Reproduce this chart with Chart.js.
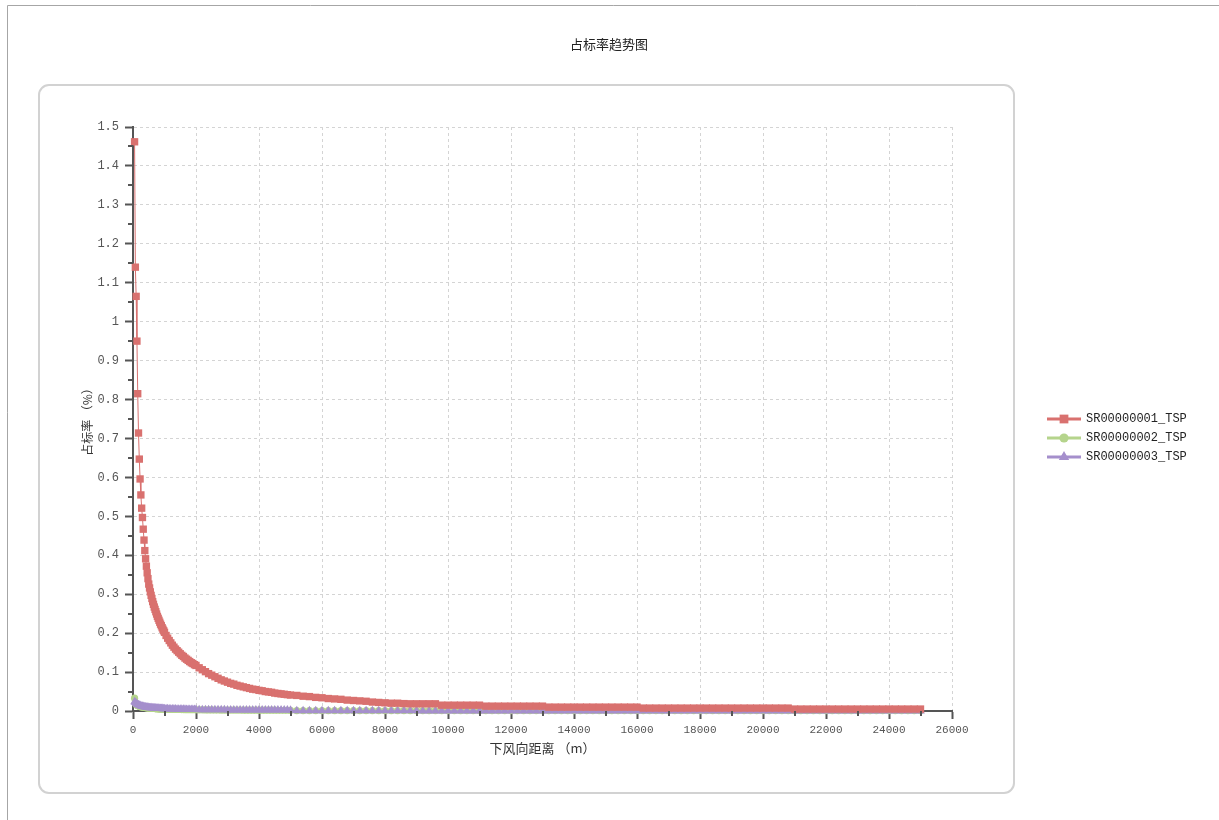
<!DOCTYPE html>
<html>
<head>
<meta charset="utf-8">
<script src="https://cdn.jsdelivr.net/npm/chart.js@4.4.1/dist/chart.umd.min.js"></script>
<style>
html,body{margin:0;padding:0;background:#fff;}
#wrap{width:1219px;height:820px;position:relative;}
canvas{display:block;}
</style>
</head>
<body>
<div id="wrap"><canvas id="c" width="1219" height="820"></canvas></div>
<script>
const chartTitle = '占标率趋势图';
const xTitle = '下风向距离 （m）';
const yTitle = '占标率 （%）';
const seriesNames = ['SR00000001_TSP', 'SR00000002_TSP', 'SR00000003_TSP'];
const seriesColors = ['#D9716F', '#B5D48C', '#A58FCC'];

const xTicksMax = 26000, xStep = 2000;
const yTicksMax = 1.5, yStep = 0.1;

const distances = [
  50,75,100,125,150,175,200,225,250,275,300,325,350,375,400,425,450,475,500,
  525,550,575,600,625,650,675,700,725,750,775,800,825,850,875,900,925,950,975,1000,
  1050,1100,1150,1200,1250,1300,1350,1400,1450,1500,
  1550,1600,1650,1700,1750,1800,1850,1900,1950,2000,
  2100,2200,2300,2400,2500,2600,2700,2800,2900,3000,
  3100,3200,3300,3400,3500,3600,3700,3800,3900,4000,
  4100,4200,4300,4400,4500,4600,4700,4800,4900,5000,
  5200,5400,5600,5800,6000,6200,6400,6600,6800,7000,
  7200,7400,7600,7800,8000,8200,8400,8600,8800,9000,
  9200,9400,9600,9800,10000,10200,10400,10600,10800,11000,
  11200,11400,11600,11800,12000,12200,12400,12600,12800,13000,
  13200,13400,13600,13800,14000,14200,14400,14600,14800,15000,
  15200,15400,15600,15800,16000,16200,16400,16600,16800,17000,
  17200,17400,17600,17800,18000,18200,18400,18600,18800,19000,
  19200,19400,19600,19800,20000,20200,20400,20600,20800,21000,
  21200,21400,21600,21800,22000,22200,22400,22600,22800,23000,
  23200,23400,23600,23800,24000,24200,24400,24600,24800,25000
];

const sr1 = [
  1.462,1.140,1.065,0.950,0.815,0.714,0.647,0.596,0.555,0.521,0.497,0.467,0.439,0.412,0.391,0.372,0.355,0.340,0.326,
  0.316,0.306,0.297,0.289,0.281,0.274,0.267,0.261,0.255,0.249,0.243,0.238,0.233,0.228,0.223,0.219,0.214,0.210,0.206,0.202,
  0.194,0.187,0.181,0.175,0.169,0.164,0.159,0.155,0.151,0.147,
  0.143,0.140,0.136,0.133,0.130,0.127,0.124,0.122,0.119,0.117,
  0.111,0.106,0.101,0.096,0.092,0.088,0.084,0.080,0.077,0.074,
  0.071,0.069,0.066,0.064,0.062,0.060,0.058,0.056,0.055,0.053,
  0.052,0.050,0.049,0.048,0.046,0.045,0.044,0.043,0.042,0.041,
  0.040,0.038,0.037,0.035,0.034,0.032,0.031,0.030,0.028,0.027,
  0.026,0.025,0.023,0.022,0.021,0.020,0.020,0.019,0.0185,0.0185,
  0.0185,0.0185,0.0185,0.015,0.015,0.015,0.015,0.015,0.015,0.015,
  0.0125,0.0125,0.0125,0.0125,0.0125,0.0125,0.0125,0.0125,0.0125,0.0125,
  0.010,0.010,0.010,0.010,0.010,0.010,0.010,0.010,0.010,0.010,
  0.010,0.010,0.010,0.010,0.010,0.0075,0.0075,0.0075,0.0075,0.0075,
  0.0075,0.0075,0.0075,0.0075,0.0075,0.0075,0.0075,0.0075,0.0075,0.0075,
  0.0075,0.0075,0.0075,0.0075,0.0075,0.0075,0.0075,0.0075,0.0075,0.005,
  0.005,0.005,0.005,0.005,0.005,0.005,0.005,0.005,0.005,0.005,
  0.005,0.005,0.005,0.005,0.005,0.005,0.005,0.005,0.005,0.005
];

const sr2 = [
  0.033,0.021,0.017,0.015,0.014,0.013,0.012,0.0115,0.011,0.0105,0.010,0.0097,0.0094,0.0090,0.0087,0.0084,0.0081,0.0078,0.0075,
  0.0073,0.0072,0.0070,0.0069,0.0067,0.0066,0.0064,0.0063,0.0061,0.0060,0.0058,0.0057,0.0056,0.0055,0.0054,0.0053,0.0052,0.0051,0.0050,0.0049,
  0.0048,0.0046,0.0045,0.0044,0.0043,0.0042,0.0041,0.0040,0.0039,0.0038,
  0.0037,0.0036,0.0035,0.0034,0.0034,0.0033,0.0033,0.0032,0.0032,0.0031,
  0.0030,0.0029,0.0028,0.0027,0.0027,0.0026,0.0026,0.0025,0.0025,0.0024,
  0.0024,0.0023,0.0023,0.0023,0.0022,0.0022,0.0022,0.0021,0.0021,0.0021,
  0.0021,0.0020,0.0020,0.0020,0.0020,0.0019,0.0019,0.0019,0.0019,0.0018,
  0.0008,0.0008,0.0008,0.0008,0.0008,0.0008,0.0008,0.0008,0.0008,0.0008,
  0.0008,0.0008,0.0008,0.0008,0.0008,0.0008,0.0008,0.0008,0.0008,0.0008,
  0.0008,0.0008,0.0008,0.0008,0.0008,0.0008,0.0008,0.0008,0.0008,0.0008,
  0.0007,0.0007,0.0007,0.0007,0.0007,0.0007,0.0007,0.0007,0.0007,0.0007,
  0.0007,0.0007,0.0007,0.0007,0.0007,0.0007,0.0007,0.0007,0.0007,0.0007,
  0.0007,0.0007,0.0007,0.0007,0.0007,0.0007,0.0007,0.0007,0.0007,0.0007,
  0.0007,0.0007,0.0007,0.0007,0.0007,0.0007,0.0007,0.0007,0.0007,0.0007,
  0.0006,0.0006,0.0006,0.0006,0.0006,0.0006,0.0006,0.0006,0.0006,0.0006,
  0.0006,0.0006,0.0006,0.0006,0.0006,0.0006,0.0006,0.0006,0.0006,0.0006,
  0.0006,0.0006,0.0006,0.0006,0.0006,0.0006,0.0006,0.0006,0.0006,0.0006
];

const sr3 = [
  0.024,0.022,0.020,0.018,0.017,0.016,0.015,0.014,0.013,0.0125,0.012,0.0115,0.011,0.0105,0.010,0.0097,0.0094,0.0091,0.0088,
  0.0086,0.0085,0.0083,0.0081,0.0080,0.0078,0.0076,0.0075,0.0073,0.0072,0.0070,0.0069,0.0067,0.0066,0.0065,0.0063,0.0062,0.0061,0.0060,0.0058,
  0.0057,0.0055,0.0054,0.0052,0.0051,0.0050,0.0049,0.0047,0.0046,0.0045,
  0.0044,0.0043,0.0042,0.0041,0.0040,0.0039,0.0038,0.0038,0.0037,0.0036,
  0.0035,0.0034,0.0033,0.0032,0.0031,0.0030,0.0030,0.0029,0.0029,0.0028,
  0.0028,0.0027,0.0027,0.0027,0.0026,0.0026,0.0026,0.0025,0.0025,0.0025,
  0.0025,0.0024,0.0024,0.0024,0.0024,0.0023,0.0023,0.0023,0.0023,0.0022,
  0.0004,0.0004,0.0004,0.0004,0.0004,0.0004,0.0004,0.0004,0.0004,0.0004,
  0.0004,0.0004,0.0004,0.0004,0.0004,0.0004,0.0004,0.0004,0.0004,0.0004,
  0.0003,0.0003,0.0003,0.0003,0.0003,0.0003,0.0003,0.0003,0.0003,0.0003,
  0.0003,0.0003,0.0003,0.0003,0.0003,0.0003,0.0003,0.0003,0.0003,0.0003,
  0.0003,0.0003,0.0003,0.0003,0.0003,0.0003,0.0003,0.0003,0.0003,0.0003,
  0.0003,0.0003,0.0003,0.0003,0.0003,0.0003,0.0003,0.0003,0.0003,0.0003,
  0.0003,0.0003,0.0003,0.0003,0.0003,0.0003,0.0003,0.0003,0.0003,0.0003,
  0.0002,0.0002,0.0002,0.0002,0.0002,0.0002,0.0002,0.0002,0.0002,0.0002,
  0.0002,0.0002,0.0002,0.0002,0.0002,0.0002,0.0002,0.0002,0.0002,0.0002,
  0.0002,0.0002,0.0002,0.0002,0.0002,0.0002,0.0002,0.0002,0.0002,0.0002
];

const pointStyles = ['rect', 'circle', 'triangle'];
const pointRadii = [5.2, 3.6, 5];
const drawOrder = [0, 2, 1];
const seriesValues = [sr1, sr2, sr3];

function toPoints(vals) { return distances.map((d, i) => ({ x: d, y: vals[i] })); }

function roundRectPath(ctx, x, y, w, h, r) {
  ctx.beginPath();
  ctx.moveTo(x + r, y);
  ctx.lineTo(x + w - r, y);
  ctx.arcTo(x + w, y, x + w, y + r, r);
  ctx.lineTo(x + w, y + h - r);
  ctx.arcTo(x + w, y + h, x + w - r, y + h, r);
  ctx.lineTo(x + r, y + h);
  ctx.arcTo(x, y + h, x, y + h - r, r);
  ctx.lineTo(x, y + r);
  ctx.arcTo(x, y, x + r, y, r);
  ctx.closePath();
}

function drawMarker(ctx, style, x, y, r, color) {
  ctx.fillStyle = color;
  ctx.beginPath();
  if (style === 'rect') {
    const s = r * Math.SQRT1_2;
    ctx.rect(x - s, y - s, 2 * s, 2 * s);
  } else if (style === 'circle') {
    ctx.arc(x, y, r, 0, Math.PI * 2);
  } else {
    ctx.moveTo(x, y - r);
    ctx.lineTo(x + r * Math.sin(2 * Math.PI / 3), y - r * Math.cos(2 * Math.PI / 3));
    ctx.lineTo(x + r * Math.sin(4 * Math.PI / 3), y - r * Math.cos(4 * Math.PI / 3));
    ctx.closePath();
  }
  ctx.fill();
}

const decor = {
  id: 'decor',
  beforeDraw(chart) {
    const ctx = chart.ctx;
    ctx.save();
    ctx.fillStyle = '#ffffff';
    ctx.fillRect(0, 0, chart.width, chart.height);
    ctx.strokeStyle = '#a6a6a6';
    ctx.lineWidth = 1;
    ctx.beginPath();
    ctx.moveTo(7.5, 820);
    ctx.lineTo(7.5, 5.5);
    ctx.lineTo(1219, 5.5);
    ctx.stroke();
    ctx.strokeStyle = '#d2d2d2';
    ctx.lineWidth = 2;
    roundRectPath(ctx, 39, 85, 975, 708, 10);
    ctx.stroke();
    ctx.fillStyle = '#222';
    ctx.font = '13px "Noto Sans CJK SC"';
    ctx.textAlign = 'center';
    ctx.textBaseline = 'middle';
    ctx.fillText(chartTitle, 609, 44);
    ctx.restore();
  },
  afterDraw(chart) {
    const ctx = chart.ctx;
    const xs = chart.scales.x, ys = chart.scales.y;
    const ca = chart.chartArea;
    ctx.save();
    ctx.strokeStyle = '#555';
    ctx.lineWidth = 2;
    ctx.beginPath();
    for (let v = yStep / 2; v < yTicksMax; v += yStep) {
      const py = Math.round(ys.getPixelForValue(v));
      ctx.moveTo(ca.left - 5, py);
      ctx.lineTo(ca.left, py);
    }
    for (let v = xStep / 2; v < xTicksMax; v += xStep) {
      const px = Math.round(xs.getPixelForValue(v));
      ctx.moveTo(px, ca.bottom);
      ctx.lineTo(px, ca.bottom + 5);
    }
    ctx.stroke();
    // legend
    const ly0 = 419, gap = 19;
    chart.data.datasets.forEach((ds, i) => {
      const y = ly0 + i * gap;
      ctx.strokeStyle = ds.borderColor;
      ctx.lineWidth = 3;
      ctx.beginPath();
      ctx.moveTo(1047, y);
      ctx.lineTo(1081, y);
      ctx.stroke();
      drawMarker(ctx, pointStyles[i], 1064, y, pointRadii[i] + 1, ds.borderColor);
      ctx.fillStyle = '#222';
      ctx.font = '12px "Liberation Mono"';
      ctx.textAlign = 'left';
      ctx.textBaseline = 'middle';
      ctx.fillText(ds.label, 1086, y);
    });
    ctx.restore();
  }
};

const datasets = seriesNames.map((name, i) => ({
  label: name,
  data: toPoints(seriesValues[i]),
  borderColor: seriesColors[i],
  backgroundColor: seriesColors[i],
  pointBackgroundColor: seriesColors[i],
  pointBorderWidth: 0,
  pointStyle: pointStyles[i],
  pointRadius: pointRadii[i],
  borderWidth: 1,
  tension: 0,
  clip: false,
  order: drawOrder[i]
}));

const tickFont = { family: 'Liberation Mono', size: 11 };

new Chart(document.getElementById('c'), {
  type: 'line',
  data: { datasets },
  plugins: [decor],
  options: {
    responsive: false,
    devicePixelRatio: 1,
    animation: false,
    events: [],
    layout: { padding: { left: 76, top: 127, right: 267, bottom: 60 } },
    plugins: { legend: { display: false }, tooltip: { enabled: false }, title: { display: false } },
    scales: {
      x: {
        type: 'linear',
        min: 0, max: xTicksMax,
        afterFit(s) { s.height = 49; },
        ticks: { stepSize: xStep, color: '#555', font: tickFont, padding: 4, maxRotation: 0, callback: v => String(v) },
        grid: { color: '#d4d4d4', lineWidth: 1, tickColor: '#555', tickLength: 8, tickWidth: 2 },
        border: { display: true, color: '#555', width: 2, dash: [3, 3] },
        title: { display: true, text: xTitle, color: '#333', font: { family: 'Noto Sans CJK SC', size: 13 }, padding: { top: 2, bottom: 4 } }
      },
      y: {
        min: 0, max: yTicksMax,
        afterFit(s) { s.width = 57; },
        ticks: { stepSize: yStep, color: '#555', font: { family: 'Liberation Mono', size: 12 }, padding: 6, callback: v => String(Math.round(v * 10) / 10) },
        grid: { color: '#d4d4d4', lineWidth: 1, tickColor: '#555', tickLength: 8, tickWidth: 2 },
        border: { display: true, color: '#555', width: 2, dash: [3, 3] },
        title: { display: true, text: yTitle, color: '#333', font: { family: 'Noto Sans CJK SC', size: 12 }, padding: { top: 4, bottom: 2 } }
      }
    }
  }
});
</script>
</body>
</html>
